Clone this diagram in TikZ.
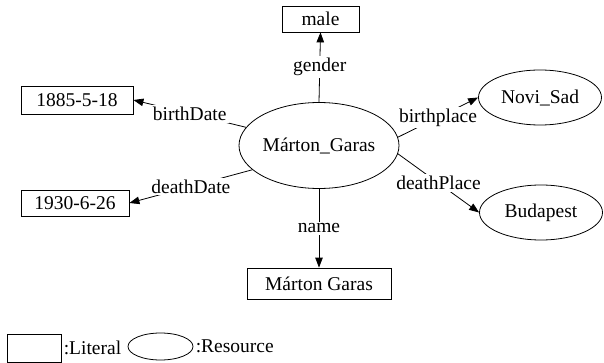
\documentclass[tikz,border=0pt]{standalone}
\usepackage{fontspec}
\setmainfont{Liberation Serif}
\usetikzlibrary{positioning, arrows.meta, shapes.geometric}

\begin{document}
\begin{tikzpicture}[
  x=1pt, y=-1pt,
  font=\rmfamily\fontsize{19.5}{23}\selectfont,
  >={Triangle[length=10pt, width=7.5pt]},
  line width=0.8pt,
  %% Node styles
  literal/.style={
    draw, rectangle, inner sep=0pt, align=center
  },
  resource/.style={
    draw, ellipse, inner sep=0pt, align=center
  },
  prop/.style={
    fill=white, inner sep=2pt
  },
  link/.style={->, line width=0.8pt},
]
\useasboundingbox (0,0) rectangle (604,363);

%% ── MAIN NODES ────────────────────────────────────────────────────────────
\node[resource, minimum width=160pt, minimum height=86pt] (mg) at (319,145.5) {Márton\_Garas};
\node[literal, minimum width=77pt, minimum height=26pt]   (male)  at (320.5,19) {male};
\node[literal, minimum width=112pt, minimum height=28pt]  (born)  at (77,100)   {1885-5-18};
\node[literal, minimum width=108pt, minimum height=26pt]  (died)  at (75,203)   {1930-6-26};
\node[literal, minimum width=144pt, minimum height=31pt]  (fname) at (319,283.5) {Márton Garas};
\node[resource, minimum width=123pt, minimum height=55pt] (novi)  at (540,97.5) {Novi\_Sad};
\node[resource, minimum width=123pt, minimum height=55pt] (buda)  at (541,212.5) {Budapest};

%% ── PROPERTY EDGES ────────────────────────────────────────────────────────
\draw[link] (mg.north) -- node[prop] (genderL) {gender} (male.south);
\draw[link] (mg.166) -- node[prop] (bdateL) {birthDate} (born.east);
\draw[link] (mg.200) -- node[prop] (ddateL) {deathDate} (died.east);
\draw[link] (mg.6) -- node[prop] (bplaceL) {birthplace} (novi.west);
\draw[link] (mg.-6) -- node[prop] (dplaceL) {deathPlace} (buda.west);
\draw[link] (mg.south) -- node[prop] (nameL) {name} (fname.north);

%% ── LEGEND ────────────────────────────────────────────────────────────────
\node[literal, minimum width=54pt, minimum height=28pt] (legLit) at (34,348) {};
\node[anchor=west, inner sep=2pt] (legLitTxt) at (legLit.east) {:Literal};
\node[resource, minimum width=65pt, minimum height=27pt] (legRes) at (160.5,346.5) {};
\node[anchor=west, inner sep=2pt] (legResTxt) at (legRes.east) {:Resource};

\end{tikzpicture}
\end{document}
